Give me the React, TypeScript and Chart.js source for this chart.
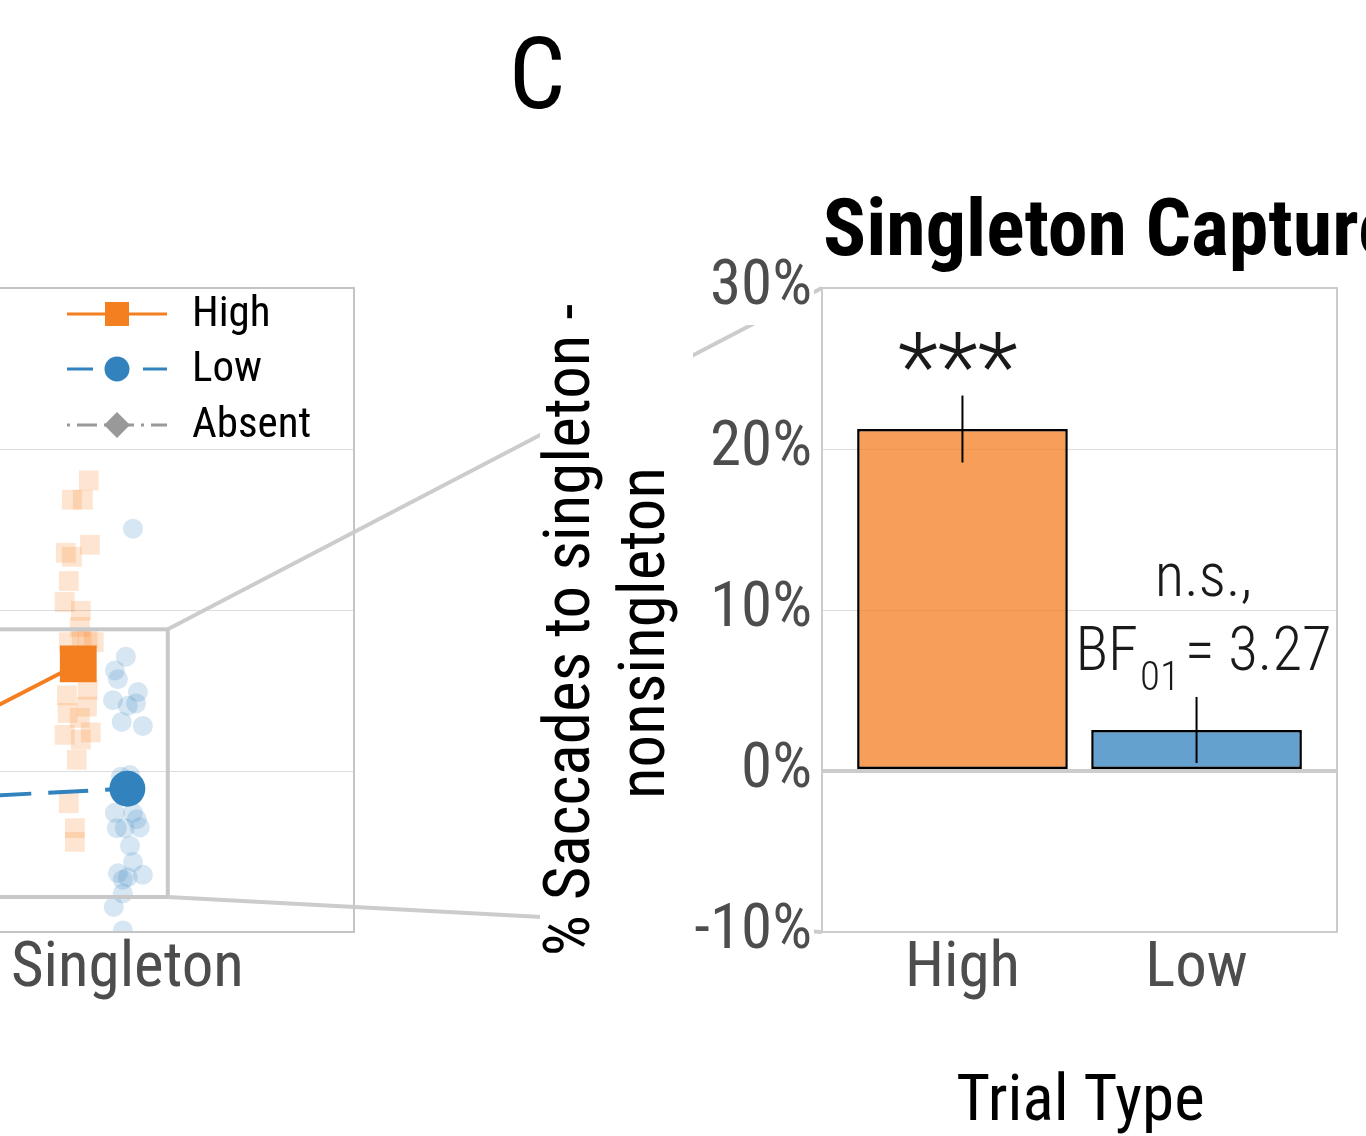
import React, { useEffect, useRef } from 'react';
import { Chart, registerables } from 'chart.js';

Chart.register(...registerables);

const FAMILY = "'Roboto Condensed', 'Liberation Sans Narrow', Roboto, 'DejaVu Sans', sans-serif";
const cssFont = (size: number, weight: string | number = 400) => `${weight} condensed ${size}px ${FAMILY}`;

// ---- Panel C: singleton capture (singleton minus nonsingleton) ----
const TRIAL_TYPES = ['High', 'Low'];
const CAPTURE_MEAN = [21.24, 2.55];
const CAPTURE_ERR = [2.08, 2.05];
const CAPTURE_FILL = ['rgba(244,127,32,0.75)', 'rgba(49,130,189,0.75)'];
const CAPTURE_MIN = -10;
const CAPTURE_MAX = 30;
const CAPTURE_STEP = 10;
const STAR_LABEL = '***';
const STAR_X = 0.98;
const STAR_Y = 23.1;
const NS_LABEL = 'n.s.,';
const NS_X = 2.03;
const NS_Y = 10.9;
const BF_Y = 6.27;
const BF_VALUE = '3.27';

// ---- Left panel: saccade destination by reward condition ----
const LOCATIONS = ['Nonsingleton', 'Singleton'];
const HIGH_MEANS = [9.1, 33.3];
const LOW_MEANS = [15.4, 17.8];
const DODGE = 0.13;
const HIGH_SUBJ_X = [1.898, 1.853, 1.882, 1.901, 1.837, 1.853, 1.845, 1.834, 1.877, 1.874, 1.845, 1.911, 1.879, 1.895,
  1.840, 1.895, 1.842, 1.893, 1.874, 1.834, 1.903, 1.877, 1.866, 1.845, 1.861, 1.861];
const HIGH_SUBJ_Y = [56.1, 53.7, 53.7, 48.1, 47.1, 46.6, 43.6, 41.0, 39.9, 37.9, 36.0, 36.0, 36.3, 36.5,
  29.4, 30.1, 27.2, 28.0, 26.6, 24.5, 24.8, 23.9, 21.4, 16.0, 12.9, 11.2];
const LOW_SUBJ_X = [2.015, 1.996, 1.967, 1.975, 2.028, 1.962, 2.001, 2.023, 1.985, 2.041, 1.983, 2.007, 1.967, 2.015,
  2.025, 1.972, 1.993, 2.033, 2.007, 2.015, 1.975, 2.041, 2.001, 1.988, 1.988, 1.964, 1.988];
const LOW_SUBJ_Y = [50.1, 34.2, 32.5, 31.4, 29.8, 28.8, 28.1, 28.4, 26.1, 25.6, 19.3, 19.5, 14.8, 14.8,
  14.0, 12.9, 12.9, 13.0, 10.7, 8.7, 7.3, 7.1, 6.8, 6.5, 4.8, 3.1, 0.2];
const ZOOM_BOX = { x0: 0.7, x1: 2.107, y0: 4.35, y1: 37.6 };
const LEGEND_LABELS = ['High', 'Low', 'Absent'];
const ORANGE = '#F47F20';
const BLUE = '#3182BD';
const GREY = '#999999';

const H = 1136;
const LEFT_X = -477;
const LEFT_W = 1307;
const RIGHT_X = 500;
const RIGHT_W = 866;

const rightDecor = {
  id: 'rightDecor',
  beforeDraw(chart: any) {
    const { ctx, chartArea: a, scales } = chart;
    const y = scales.y;
    ctx.save();
    ctx.fillStyle = '#ffffff';
    ctx.fillRect(40, 250, 153, 750);
    ctx.font = cssFont(63);
    y.ticks.forEach((t: any) => {
      const w = ctx.measureText(`${t.value}%`).width;
      const py = y.getPixelForValue(t.value);
      ctx.fillRect(a.left - 10 - w - 2, py - 37, w + 4, 74);
    });
    ctx.restore();
  },
  afterDatasetsDraw(chart: any) {
    const { ctx, chartArea: a, scales } = chart;
    const { x, y } = scales;
    ctx.save();
    // error bars
    ctx.strokeStyle = '#000';
    ctx.lineWidth = 2;
    CAPTURE_MEAN.forEach((m, i) => {
      const px = x.getPixelForValue(i + 1);
      ctx.beginPath();
      ctx.moveTo(px, y.getPixelForValue(m - CAPTURE_ERR[i]));
      ctx.lineTo(px, y.getPixelForValue(m + CAPTURE_ERR[i]));
      ctx.stroke();
    });
    // panel frame
    ctx.strokeStyle = '#CCCCCC';
    ctx.lineWidth = 2;
    ctx.strokeRect(a.left, a.top, a.right - a.left, a.bottom - a.top);
    // significance labels
    ctx.fillStyle = '#1A1A1A';
    ctx.textBaseline = 'alphabetic';
    ctx.textAlign = 'center';
    ctx.font = cssFont(94, 300);
    ctx.fillText(STAR_LABEL, x.getPixelForValue(STAR_X), y.getPixelForValue(STAR_Y));
    ctx.font = cssFont(61, 300);
    const nx = x.getPixelForValue(NS_X);
    ctx.fillText(NS_LABEL, nx, y.getPixelForValue(NS_Y));
    ctx.textAlign = 'left';
    const by = y.getPixelForValue(BF_Y);
    const wBF = ctx.measureText('BF').width;
    const rest = `= ${BF_VALUE}`;
    const wRest = ctx.measureText(rest).width;
    ctx.font = cssFont(41, 300);
    const wSub = ctx.measureText('01').width;
    const gap = 7;
    const start = nx - (wBF + wSub + gap + wRest) / 2;
    ctx.fillText('01', start + wBF + 2, by + 20);
    ctx.font = cssFont(61, 300);
    ctx.fillText('BF', start, by);
    ctx.fillText(rest, start + wBF + wSub + gap, by);
    ctx.restore();
  },
  afterDraw(chart: any) {
    const { ctx, chartArea: a } = chart;
    ctx.save();
    ctx.fillStyle = '#000';
    ctx.textBaseline = 'alphabetic';
    // panel letter
    ctx.textAlign = 'center';
    ctx.font = cssFont(100);
    ctx.fillText('C', 37, 108);
    // panel title
    ctx.textAlign = 'left';
    ctx.font = cssFont(80, 'bold');
    ctx.fillText('Singleton Capture', a.left + 1, 255);
    // x-axis title
    ctx.textAlign = 'center';
    ctx.font = cssFont(65);
    ctx.fillText('Trial Type', (a.left + a.right) / 2 + 1, 1120);
    // y-axis title (two lines)
    const lines = ['% Saccades to singleton -', 'nonsingleton'];
    const bases = [89, 164];
    const centers = [630, 633];
    ctx.font = cssFont(65);
    lines.forEach((t, i) => {
      ctx.save();
      ctx.translate(bases[i], centers[i]);
      ctx.rotate(-Math.PI / 2);
      ctx.fillText(t, 0, 0);
      ctx.restore();
    });
    ctx.restore();
  },
};

function makeLeftDecor(right: Chart) {
  return {
    id: 'leftDecor',
    afterDraw(chart: any) {
      const { ctx, chartArea: a, scales } = chart;
      const { x, y } = scales;
      ctx.save();
      // panel frame
      ctx.strokeStyle = '#C4C4C4';
      ctx.lineWidth = 2;
      ctx.strokeRect(a.left, a.top, a.right - a.left, a.bottom - a.top);
      // zoomed region
      const zx0 = x.getPixelForValue(ZOOM_BOX.x0);
      const zx1 = x.getPixelForValue(ZOOM_BOX.x1);
      const zy0 = y.getPixelForValue(ZOOM_BOX.y0);
      const zy1 = y.getPixelForValue(ZOOM_BOX.y1);
      ctx.strokeStyle = '#C8C8C8';
      ctx.lineWidth = 4;
      ctx.strokeRect(zx0, zy1, zx1 - zx0, zy0 - zy1);
      // connectors to panel C
      const ra = right.chartArea;
      const rx = RIGHT_X + ra.left - LEFT_X;
      ctx.strokeStyle = '#CCCCCC';
      ctx.beginPath();
      ctx.moveTo(zx1, zy1);
      ctx.lineTo(rx, ra.top);
      ctx.moveTo(zx1, zy0);
      ctx.lineTo(rx, ra.bottom);
      ctx.stroke();
      // legend
      const rows = [26, 81, 137];
      const k0 = a.right - 287;
      const k1 = a.right - 187;
      const km = (k0 + k1) / 2;
      LEGEND_LABELS.forEach((label, i) => {
        const ry = a.top + rows[i];
        ctx.lineWidth = 3;
        if (i === 0) {
          ctx.strokeStyle = ORANGE;
          ctx.setLineDash([]);
          ctx.beginPath(); ctx.moveTo(k0, ry); ctx.lineTo(k1, ry); ctx.stroke();
          ctx.fillStyle = ORANGE;
          ctx.fillRect(km - 12, ry - 12, 24, 24);
        } else if (i === 1) {
          ctx.strokeStyle = BLUE;
          ctx.setLineDash([26, 50]);
          ctx.beginPath(); ctx.moveTo(k0, ry); ctx.lineTo(k1, ry); ctx.stroke();
          ctx.setLineDash([]);
          ctx.fillStyle = BLUE;
          ctx.beginPath(); ctx.arc(km, ry, 12.5, 0, Math.PI * 2); ctx.fill();
        } else {
          ctx.strokeStyle = GREY;
          ctx.setLineDash([3, 7, 20, 7]);
          ctx.beginPath(); ctx.moveTo(k0, ry); ctx.lineTo(k1, ry); ctx.stroke();
          ctx.setLineDash([]);
          ctx.fillStyle = GREY;
          ctx.beginPath();
          ctx.moveTo(km, ry - 13); ctx.lineTo(km + 13, ry); ctx.lineTo(km, ry + 13); ctx.lineTo(km - 13, ry);
          ctx.closePath(); ctx.fill();
        }
        ctx.fillStyle = '#000';
        ctx.font = cssFont(43);
        ctx.textAlign = 'left';
        ctx.textBaseline = 'middle';
        ctx.fillText(label, a.right - 162, ry + 1);
      });
      ctx.restore();
    },
  };
}

const noScalePadding = (s: any) => {
  s.paddingLeft = 0;
  s.paddingRight = 0;
};

export default function App() {
  const leftRef = useRef<HTMLCanvasElement>(null);
  const rightRef = useRef<HTMLCanvasElement>(null);

  useEffect(() => {
    document.body.style.margin = '0';
    const tickFont = { family: FAMILY, size: 63, weight: 'condensed' as any };

    const right = new Chart(rightRef.current as HTMLCanvasElement, {
      type: 'bar',
      data: {
        datasets: [
          {
            data: TRIAL_TYPES.map((_, i) => ({ x: i + 1, y: CAPTURE_MEAN[i] })) as any,
            backgroundColor: CAPTURE_FILL,
            borderColor: '#000000',
            borderWidth: 2.5,
            borderSkipped: false,
            barPercentage: 0.9,
            categoryPercentage: 1,
          },
        ],
      },
      options: {
        responsive: false,
        animation: false,
        layout: { autoPadding: false, padding: { top: 288, right: 29, left: 0, bottom: 0 } },
        plugins: { legend: { display: false }, tooltip: { enabled: false }, title: { display: false } },
        scales: {
          x: {
            type: 'linear',
            min: 0.4,
            max: 2.6,
            offset: false,
            grid: { display: false, drawTicks: false },
            border: { display: false },
            afterBuildTicks: (s: any) => {
              s.ticks = TRIAL_TYPES.map((_, i) => ({ value: i + 1 }));
            },
            afterFit: (s: any) => {
              s.height = 204;
              noScalePadding(s);
            },
            ticks: {
              autoSkip: false,
              maxRotation: 0,
              padding: 0,
              color: '#4D4D4D',
              font: tickFont,
              callback: (v: any) => TRIAL_TYPES[Math.round(Number(v)) - 1] ?? '',
            },
          },
          y: {
            min: CAPTURE_MIN,
            max: CAPTURE_MAX,
            afterFit: (s: any) => {
              s.width = 322;
            },
            border: { display: false },
            grid: {
              drawTicks: false,
              color: (c: any) => (c.tick.value === 0 ? '#CCCCCC' : '#DEDEDE'),
              lineWidth: (c: any) => (c.tick.value === 0 ? 4 : 1),
            },
            ticks: {
              stepSize: CAPTURE_STEP,
              padding: 10,
              color: '#4D4D4D',
              font: tickFont,
              callback: (v: any) => `${v}%`,
            },
          },
        },
      },
      plugins: [rightDecor as any],
    });

    const left = new Chart(leftRef.current as HTMLCanvasElement, {
      type: 'line',
      data: {
        datasets: [
          {
            label: 'High',
            data: LOCATIONS.map((_, i) => ({ x: i + 1 - DODGE, y: HIGH_MEANS[i] })) as any,
            borderColor: ORANGE,
            backgroundColor: ORANGE,
            borderWidth: 4,
            pointStyle: 'rect',
            pointRadius: 26,
            pointBorderWidth: 0,
            order: 0,
          },
          {
            label: 'Low',
            data: LOCATIONS.map((_, i) => ({ x: i + 1, y: LOW_MEANS[i] })) as any,
            borderColor: BLUE,
            backgroundColor: BLUE,
            borderWidth: 4,
            borderDash: [40, 17],
            borderDashOffset: 43,
            pointStyle: 'circle',
            pointRadius: 18,
            pointBorderWidth: 0,
            order: 0,
          },
          {
            label: 'High subjects',
            data: HIGH_SUBJ_X.map((v, i) => ({ x: v, y: HIGH_SUBJ_Y[i] })) as any,
            showLine: false,
            backgroundColor: 'rgba(244,127,32,0.2)',
            borderColor: 'rgba(244,127,32,0.2)',
            pointStyle: 'rect',
            pointRadius: 14,
            pointBorderWidth: 0,
            order: 1,
          },
          {
            label: 'Low subjects',
            data: LOW_SUBJ_X.map((v, i) => ({ x: v, y: LOW_SUBJ_Y[i] })) as any,
            showLine: false,
            backgroundColor: 'rgba(49,130,189,0.2)',
            borderColor: 'rgba(49,130,189,0.2)',
            pointStyle: 'circle',
            pointRadius: 10,
            pointBorderWidth: 0,
            order: 1,
          },
        ],
      },
      options: {
        responsive: false,
        animation: false,
        layout: { autoPadding: false, padding: { top: 288, right: LEFT_W - (354 - LEFT_X), left: 0, bottom: 0 } },
        plugins: { legend: { display: false }, tooltip: { enabled: false }, title: { display: false } },
        scales: {
          x: {
            type: 'linear',
            min: 0.4,
            max: 2.6,
            offset: false,
            grid: { display: false, drawTicks: false },
            border: { display: false },
            afterBuildTicks: (s: any) => {
              s.ticks = LOCATIONS.map((_, i) => ({ value: i + 1 }));
            },
            afterFit: (s: any) => {
              s.height = 204;
              noScalePadding(s);
            },
            ticks: {
              autoSkip: false,
              maxRotation: 0,
              padding: 0,
              color: '#4D4D4D',
              font: tickFont,
              callback: (v: any) => LOCATIONS[Math.round(Number(v)) - 1] ?? '',
            },
          },
          y: {
            min: 0,
            max: 80,
            afterFit: (s: any) => {
              s.width = 0;
            },
            border: { display: false },
            grid: {
              drawTicks: false,
              color: (c: any) => (c.tick.value > 0 && c.tick.value < 80 ? '#DDDDDD' : 'rgba(0,0,0,0)'),
              lineWidth: 1,
            },
            ticks: { display: false, stepSize: 20 },
          },
        },
      },
      plugins: [makeLeftDecor(right) as any],
    });

    return () => {
      left.destroy();
      right.destroy();
    };
  }, []);

  return (
    <div
      style={{ position: 'fixed', left: 0, top: 0, width: 1366, height: H, overflow: 'hidden', background: '#ffffff' }}
    >
      <canvas
        ref={leftRef}
        width={LEFT_W}
        height={H}
        style={{ position: 'absolute', left: LEFT_X, top: 0, width: LEFT_W, height: H }}
      />
      <canvas
        ref={rightRef}
        width={RIGHT_W}
        height={H}
        style={{ position: 'absolute', left: RIGHT_X, top: 0, width: RIGHT_W, height: H }}
      />
    </div>
  );
}
